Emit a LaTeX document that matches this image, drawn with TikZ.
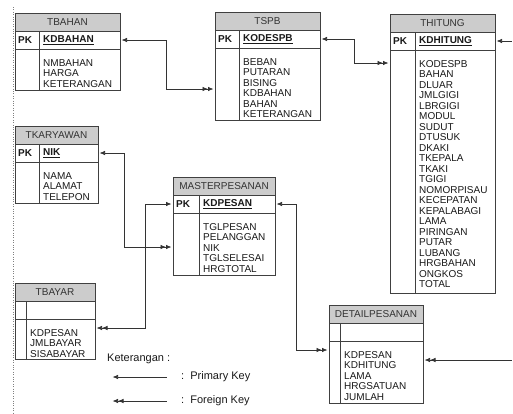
\documentclass[tikz,border=0pt]{standalone}
\usepackage{fontspec}
\setmainfont{Liberation Sans}
\usetikzlibrary{arrows.meta,positioning}

% tabel: nama, posisi, lebar, tinggi isi, kolom PK, judul, label PK, kunci, kolom
\newcommand{\tabel}[9]{%
  \node[judul, minimum width=#3pt, anchor=north west] (#1) at (#2) {#6};
  \node[baris, minimum width=#3pt, minimum height=18pt, below=0pt of #1] (#1-pk) {};
  \node[baris, minimum width=#3pt, minimum height=#4pt, below=0pt of #1-pk] (#1-isi) {};
  \draw[garis] ([xshift=#5pt]#1-pk.north west) -- ([xshift=#5pt]#1-isi.south west);
  \node[teks, right=3pt of #1-pk.west] (#1-lbl) {\textbf{#7}};
  \node[teks, anchor=west] (#1-kunci) at ([xshift=#5pt+4pt]#1-pk.west) {\textbf{\underline{#8}}};
  \node[teks, anchor=north west, align=left] (#1-kolom) at ([xshift=#5pt+4pt,yshift=-10pt]#1-isi.north west) {#9};
}

\begin{document}
\begin{tikzpicture}[
    x=1pt, y=-1pt,
    >={Latex[length=5.5pt,width=4.5pt]},
    % === STYLE ===
    judul/.style={draw=black!75, fill=gray!40, line width=0.7pt, minimum height=18pt,
        inner sep=0pt, outer sep=0pt, text=black!80, font=\fontsize{10}{10.5}\selectfont},
    baris/.style={draw=black!75, fill=white, line width=0.7pt, inner sep=0pt, outer sep=0pt},
    garis/.style={draw=black!75, line width=0.7pt},
    teks/.style={inner sep=0pt, text=black!90, font=\fontsize{10}{10.5}\selectfont},
    relasi/.style={draw=black!80, line width=0.75pt, shorten <=1.5pt, shorten >=1.5pt},
    ket/.style={inner sep=0pt, text=black!90, font=\fontsize{11}{12}\selectfont},
]
    \useasboundingbox (0,0) rectangle (513,413);

    % === BATAS HALAMAN ===
    \draw[dotted, gray] (13,7) -- (13,413);

    % === TABEL ===
    \tabel{tbahan}{15,13}{105}{41}{24}{TBAHAN}{PK}{KDBAHAN}{NMBAHAN\\HARGA\\KETERANGAN}
    \tabel{tspb}{215,12}{105}{72}{24}{TSPB}{PK}{KODESPB}{BEBAN\\PUTARAN\\BISING\\KDBAHAN\\BAHAN\\KETERANGAN}
    \tabel{thitung}{390,14}{105}{243}{25}{THITUNG}{PK}{KDHITUNG}{KODESPB\\BAHAN\\DLUAR\\JMLGIGI\\LBRGIGI\\MODUL\\SUDUT\\DTUSUK\\DKAKI\\TKEPALA\\TKAKI\\TGIGI\\NOMORPISAU\\KECEPATAN\\KEPALABAGI\\LAMA\\PIRINGAN\\PUTAR\\LUBANG\\HRGBAHAN\\ONGKOS\\TOTAL}
    \tabel{tkaryawan}{15,126}{83}{41}{24}{TKARYAWAN}{PK}{NIK}{NAMA\\ALAMAT\\TELEPON}
    \tabel{masterpesanan}{173,177}{102}{62}{26}{MASTERPESANAN}{PK}{KDPESAN}{TGLPESAN\\PELANGGAN\\NIK\\TGLSELESAI\\HRGTOTAL}
    \tabel{tbayar}{15,283}{80}{40}{11}{TBAYAR}{}{}{KDPESAN\\JMLBAYAR\\SISABAYAR}
    \tabel{detailpesanan}{329,305}{94}{62}{11}{DETAILPESANAN}{}{}{KDPESAN\\KDHITUNG\\LAMA\\HRGSATUAN\\JUMLAH}

    % === RELASI ===
    \coordinate (luar-a) at (513,41);
    \coordinate (luar-b) at (513,360);

    \draw[relasi, <->>] (tbahan-pk.east) -- ++(46,0) |- ([yshift=-41pt]tspb-isi.north west);
    \draw[relasi, <->>] (tspb-pk.east) -- ++(34,0) |- ([yshift=-13pt]thitung-isi.north west);
    \draw[relasi, ->] (luar-a) -- (thitung-pk.east);
    \draw[relasi, <->>] (tkaryawan-pk.east) -- ++(26,0) |- ([yshift=-34pt]masterpesanan-isi.north west);
    \draw[relasi, <->>] (masterpesanan-pk.west) -- ++(-28,0) |- ([yshift=-9pt]tbayar-isi.north east);
    \draw[relasi, <->>] (masterpesanan-pk.east) -- ++(21,0) |- ([yshift=-9pt]detailpesanan-isi.north west);
    \draw[relasi, ->>] (luar-b) -- ([yshift=-19pt]detailpesanan-isi.north east);

    % === KETERANGAN ===
    \node[ket, anchor=west] (ket) at (107,359) {Keterangan :};
    \coordinate (pk-a) at (168,377);
    \coordinate (pk-b) at (111,377);
    \coordinate (fk-a) at (168,401);
    \coordinate (fk-b) at (111,401);
    \draw[relasi, ->] (pk-a) -- (pk-b);
    \draw[relasi, ->>] (fk-a) -- (fk-b);
    \node[ket, anchor=west] (ket-pk) at (181,377) {:\ \ Primary Key};
    \node[ket, anchor=west] (ket-fk) at (181,401) {:\ \ Foreign Key};

\end{tikzpicture}
\end{document}
